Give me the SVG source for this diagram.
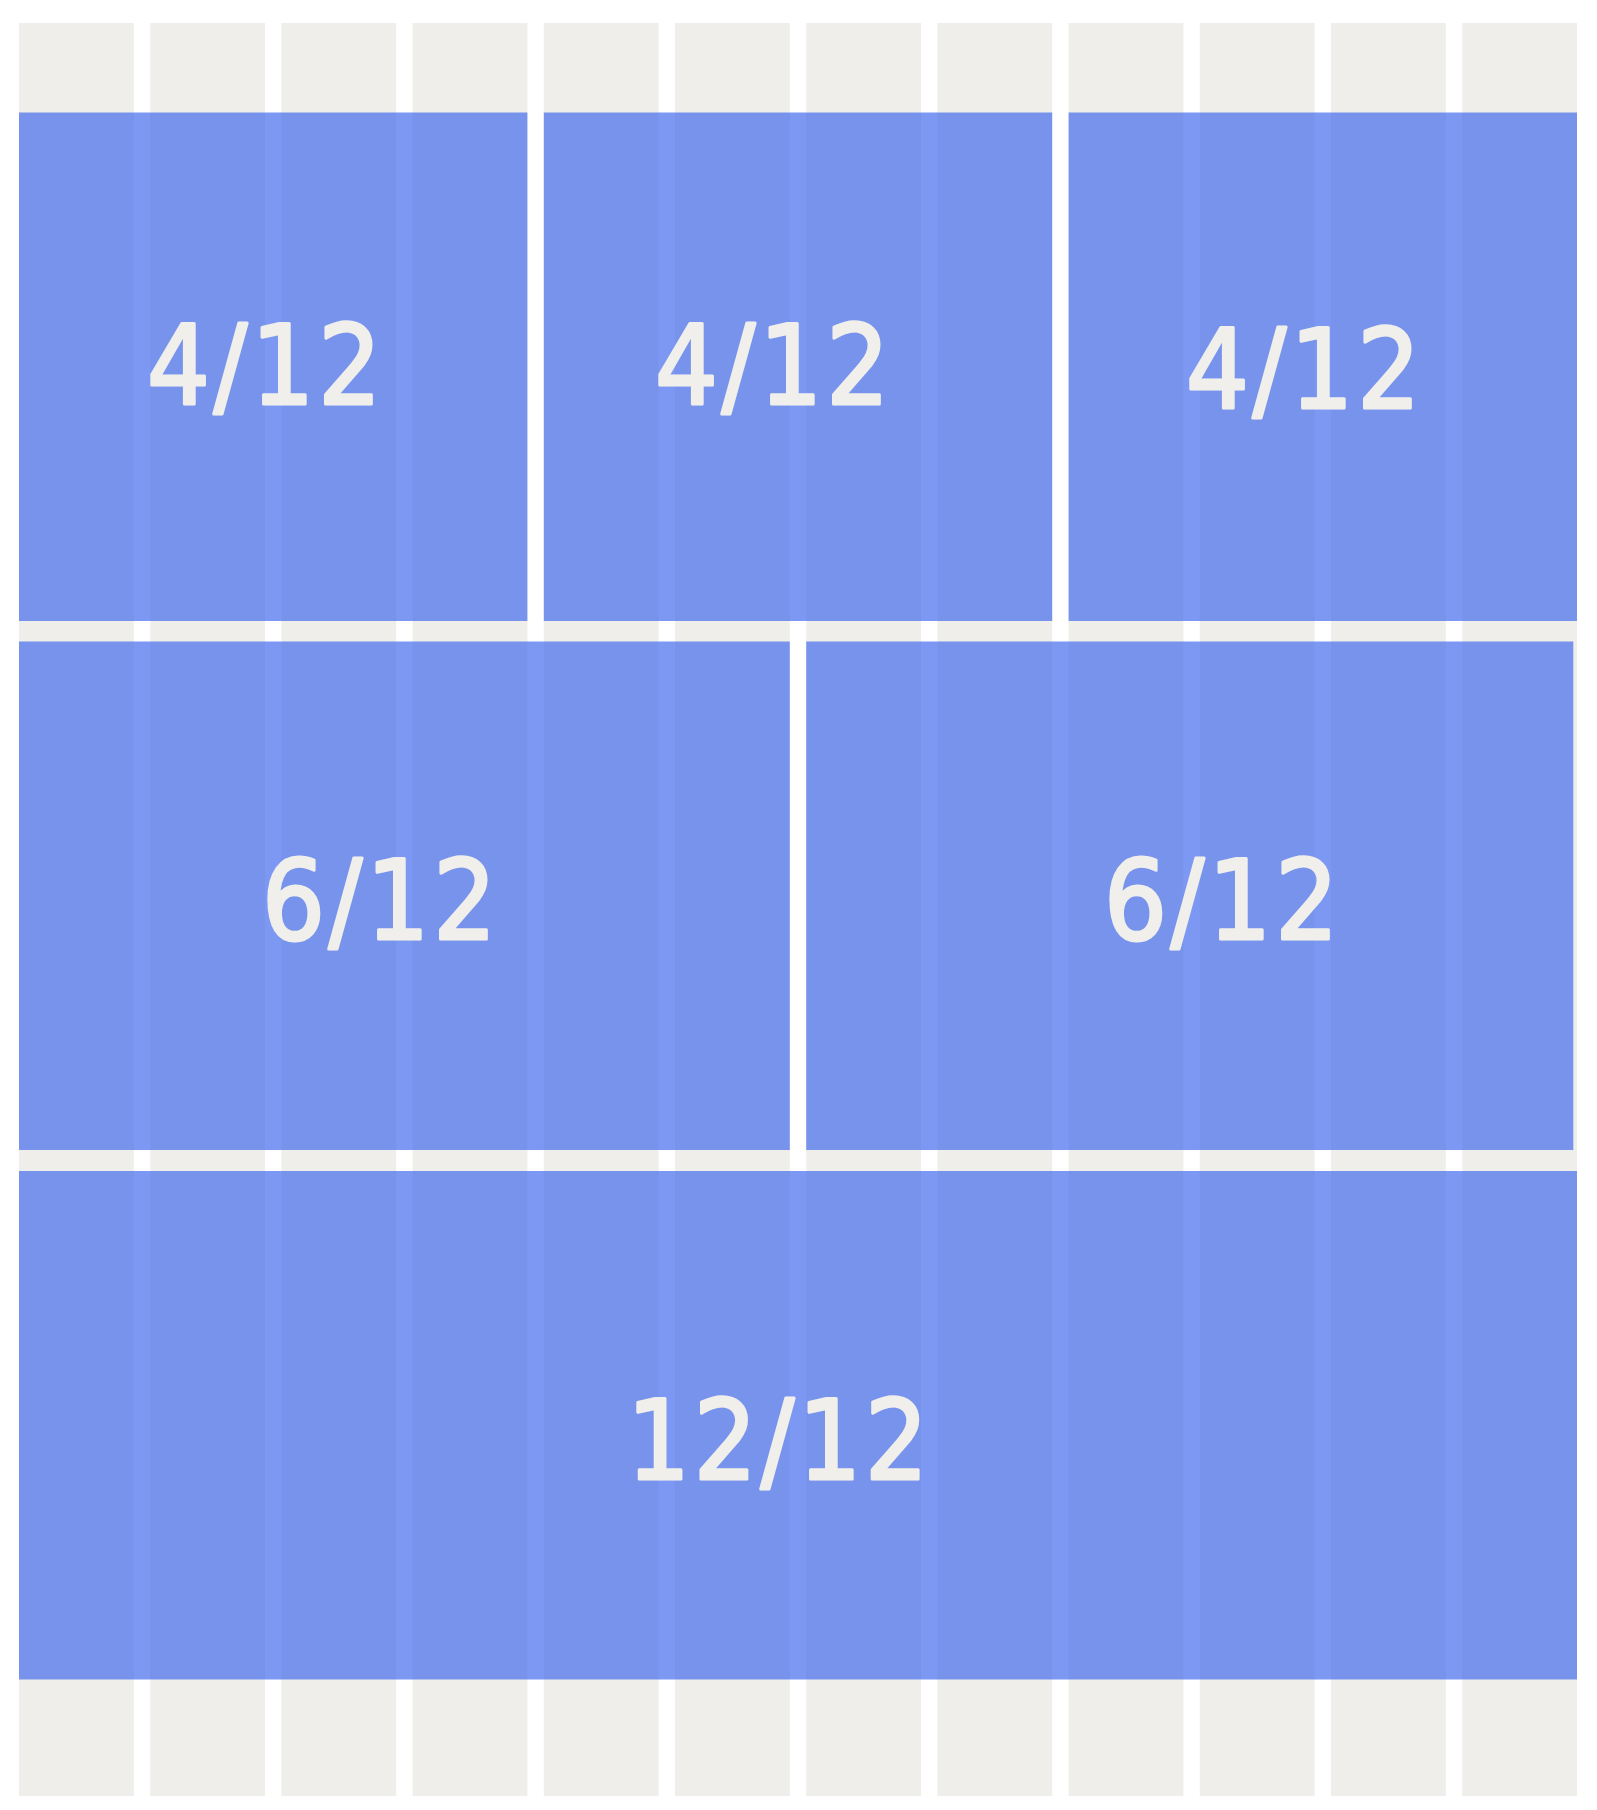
<svg xmlns="http://www.w3.org/2000/svg" width="1597" height="1810" viewBox="0 0 1597 1810">
<style>
.col{fill:#EFEEEA}
.box{fill:rgb(70,108,237);fill-opacity:0.7}
.lbl{font-family:"DejaVu Sans Condensed","DejaVu Sans","Liberation Sans",sans-serif;font-stretch:condensed;font-size:110px;letter-spacing:4px;fill:#F0EFEB;stroke:#F0EFEB;stroke-width:3;stroke-linejoin:round;text-anchor:middle}
</style>
<rect width="1597" height="1810" fill="#FFFFFF"/>
<g id="grid-columns">
<rect class="col" x="19" y="23" width="114.8" height="1773"/>
<rect class="col" x="150.2" y="23" width="114.8" height="1773"/>
<rect class="col" x="281.4" y="23" width="114.8" height="1773"/>
<rect class="col" x="412.6" y="23" width="114.8" height="1773"/>
<rect class="col" x="543.8" y="23" width="114.8" height="1773"/>
<rect class="col" x="675" y="23" width="114.8" height="1773"/>
<rect class="col" x="806.2" y="23" width="114.8" height="1773"/>
<rect class="col" x="937.4" y="23" width="114.8" height="1773"/>
<rect class="col" x="1068.6" y="23" width="114.8" height="1773"/>
<rect class="col" x="1199.8" y="23" width="114.8" height="1773"/>
<rect class="col" x="1331" y="23" width="114.8" height="1773"/>
<rect class="col" x="1462.2" y="23" width="114.8" height="1773"/>
</g>
<g id="row1-a"><rect class="box" x="19" y="112.5" width="508.4" height="508.5"/><text class="lbl" x="266" y="404">4/12</text></g>
<g id="row1-b"><rect class="box" x="543.8" y="112.5" width="508.4" height="508.5"/><text class="lbl" x="774" y="404">4/12</text></g>
<g id="row1-c"><rect class="box" x="1068.6" y="112.5" width="508.4" height="508.5"/><text class="lbl" x="1305" y="408">4/12</text></g>
<g id="row2-a"><rect class="box" x="19" y="641.5" width="770.8" height="508.5"/><text class="lbl" x="381" y="939">6/12</text></g>
<g id="row2-b"><rect class="box" x="806.2" y="641.5" width="767.1" height="508.5"/><text class="lbl" x="1223" y="939">6/12</text></g>
<g id="row3"><rect class="box" x="19" y="1171" width="1558" height="508.5"/><text class="lbl" x="779.5" y="1479">12/12</text></g>
<g id="connectors"/>
</svg>
